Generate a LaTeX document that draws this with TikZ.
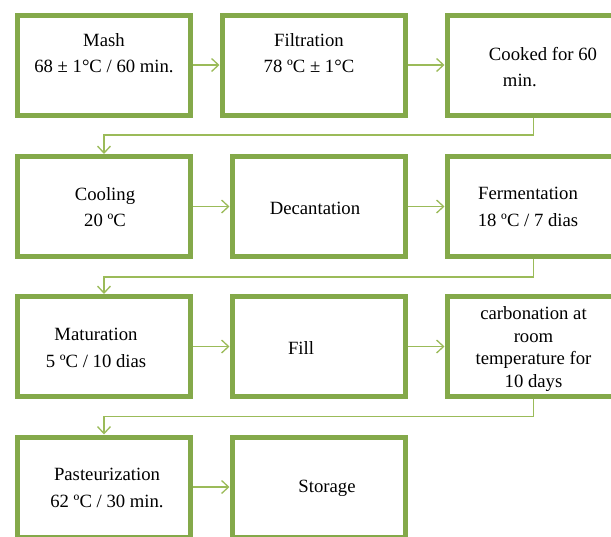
\documentclass[tikz,border=0pt]{standalone}
\usepackage{fontspec}
\setmainfont{Liberation Serif}
\usetikzlibrary{arrows.meta,shadows}
\definecolor{boxgreen}{HTML}{84A94A}
\definecolor{arrowgreen}{HTML}{9BBB59}

\begin{document}
\begin{tikzpicture}[
    x=1pt, y=-1pt,
    box/.style={rectangle, draw=boxgreen, line width=5pt, fill=white, minimum width=173pt, minimum height=100pt,
        drop shadow={shadow xshift=1.5pt, shadow yshift=-1.5pt, opacity=0.3}},
    txt/.style={align=center, font=\fontsize{18.7}{26.5}\selectfont, inner sep=0pt},
    flow/.style={draw=arrowgreen, line width=1.3pt, -{Straight Barb[length=7pt,width=13pt]}}
]
    \useasboundingbox (0,0) rectangle (611,536);
    \clip (0,0) rectangle (611,536);

    % row 1
    \node[box] (mash) at (104,65) {};
    \node[box, minimum width=183pt] (filt) at (313.5,65) {};
    \node[box] (cook) at (533.5,65) {};
    % row 2
    \node[box] (cool) at (104,206.5) {};
    \node[box] (deca) at (318.5,206.5) {};
    \node[box] (ferm) at (533.5,206.5) {};
    % row 3
    \node[box] (matu) at (104,346.5) {};
    \node[box] (fill) at (318.5,346.5) {};
    \node[box] (carb) at (533.5,346.5) {};
    % row 4
    \node[box] (past) at (104,487) {};
    \node[box] (stor) at (318.5,487) {};

    % texts
    \node[txt] (mashtxt) at (104,53) {Mash\\68 ± 1°C / 60 min.};
    \node[txt] (filttxt) at (309,53) {Filtration\\78 ºC ± 1°C};
    \node[txt, align=left] (cooktxt) at (543,67) {Cooked for 60\\\hspace*{14pt}min.};
    \node[txt] (cooltxt) at (105,207) {Cooling\\20 ºC};
    \node[txt] (decatxt) at (315,208) {Decantation};
    \node[txt] (fermtxt) at (528,207) {Fermentation\\18 ºC / 7 dias};
    \node[txt] (matutxt) at (96,348) {Maturation\\5 ºC / 10 dias};
    \node[txt] (filltxt) at (301,348) {Fill};
    \node[txt, font=\fontsize{18.7}{22.5}\selectfont] (carbtxt) at (533.5,349) {carbonation at\\room\\temperature for\\10 days};
    \node[txt] (pasttxt) at (107,488) {Pasteurization\\62 ºC / 30 min.};
    \node[txt] (stortxt) at (327,488) {Storage};

    % arrows
    \draw[flow] (mash) -- (filt);
    \draw[flow] (filt) -- (cook);
    \draw[flow] (cook.south) -- ++(0,17.5) -| (cool.north);
    \draw[flow] (cool) -- (deca);
    \draw[flow] (deca) -- (ferm);
    \draw[flow] (ferm.south) -- ++(0,18) -| (matu.north);
    \draw[flow] (matu) -- (fill);
    \draw[flow] (fill) -- (carb);
    \draw[flow] (carb.south) -- ++(0,17.5) -| (past.north);
    \draw[flow] (past) -- (stor);
\end{tikzpicture}
\end{document}
